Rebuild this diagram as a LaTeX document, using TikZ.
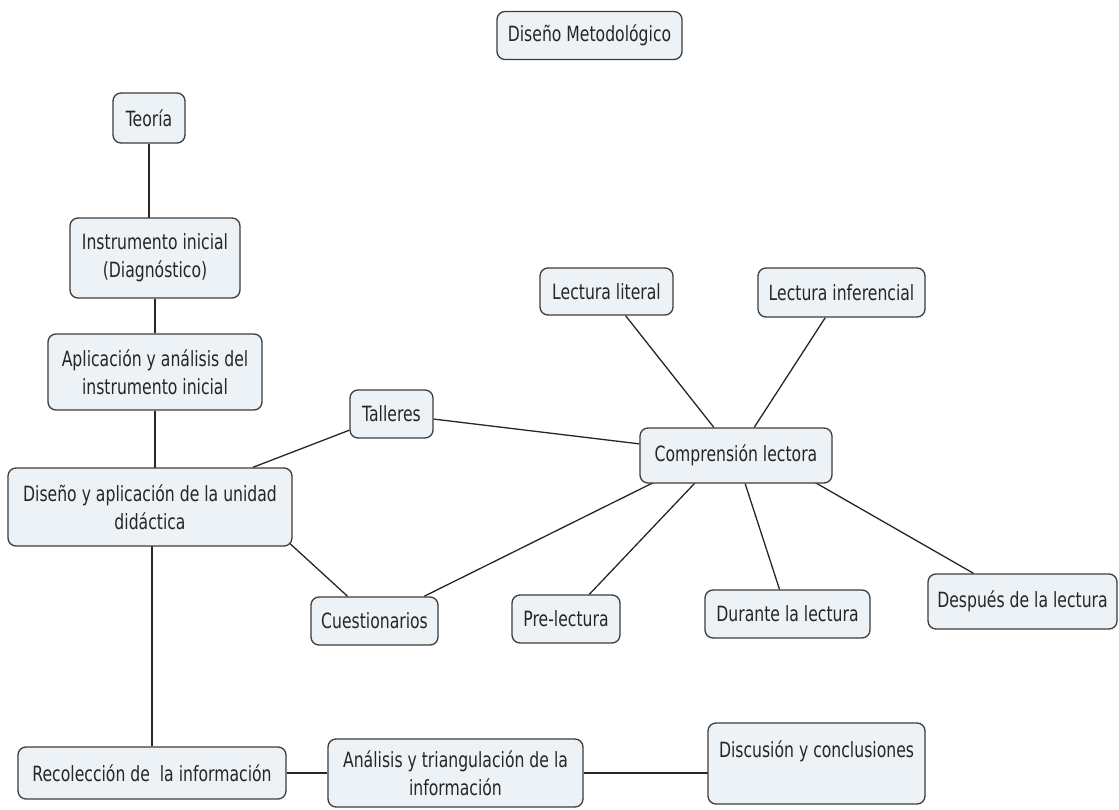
\documentclass[tikz,border=0pt]{standalone}
\usepackage{fontspec}
\setmainfont{DejaVu Sans}[FakeStretch=0.745]
\usepackage{tikz}
\usetikzlibrary{backgrounds}
\definecolor{conceptfill}{HTML}{ECF2F6}
\definecolor{conceptline}{HTML}{3C3C3C}
\tikzstyle{concept} = [rectangle, rounded corners=8pt, draw=conceptline, line width=1.3pt, fill=conceptfill, align=center, inner xsep=6pt, inner ysep=3pt, minimum height=48pt, text=black!85, font=\fontsize{21}{28}\selectfont]
\tikzstyle{link} = [line width=1.3pt, draw=black!85]

\begin{document}
\begin{tikzpicture}[x=1pt, y=-1pt]
  \useasboundingbox (0,0) rectangle (1119,810);

  \node[concept, minimum width=185pt] (metodo) at (589.5,35.5) {Diseño Metodológico};
  \node[concept, minimum width=72pt, minimum height=50pt] (teoria) at (149,118) {Teoría};
  \node[concept, minimum width=170pt, minimum height=80pt] (instr) at (155,258) {Instrumento inicial\\(Diagnóstico)};
  \node[concept, minimum width=214pt, minimum height=76pt] (aplic) at (155,372) {Aplicación y análisis del\\instrumento inicial};
  \node[concept, minimum width=284pt, minimum height=78pt] (unidad) at (150,507) {Diseño y aplicación de la unidad\\didáctica};
  \node[concept, minimum width=83pt] (talleres) at (391.5,414) {Talleres};
  \node[concept, minimum width=127pt] (cuest) at (374.5,621) {Cuestionarios};
  \node[concept, minimum width=192pt, minimum height=55pt] (compr) at (736,455.5) {Comprensión lectora};
  \node[concept, minimum width=133pt, minimum height=47pt] (literal) at (606.5,291.5) {Lectura literal};
  \node[concept, minimum width=167pt, minimum height=49pt] (inferen) at (841.5,292.5) {Lectura inferencial};
  \node[concept, minimum width=108pt] (prelec) at (566,619) {Pre-lectura};
  \node[concept, minimum width=165pt] (durante) at (787.5,614) {Durante la lectura};
  \node[concept, minimum width=189pt, minimum height=55pt] (despues) at (1022.5,601.5) {Después de la lectura};
  \node[concept, minimum width=268pt, minimum height=52pt] (recol) at (152,773) {Recolección de\ \ la información};
  \node[concept, minimum width=255pt, minimum height=68pt] (analisis) at (455.5,773) {Análisis y triangulación de la\\información};
  \node[concept, minimum width=217pt, minimum height=81pt] (discus) at (816.5,763.5) {Discusión y conclusiones\\\mbox{}};

  % links sit behind the boxes
  \begin{pgfonlayer}{background}
    \draw[link] (teoria) -- (teoria |- instr);
    \draw[link] (instr) -- (aplic);
    \draw[link] (aplic) -- (aplic |- unidad);
    \draw[link] (recol) -- (recol |- unidad);
    \draw[link] (unidad) -- (talleres);
    \draw[link] ([xshift=100pt]unidad.center) -- (cuest);
    \draw[link] (talleres) -- (compr);
    \draw[link] (cuest) -- ([xshift=-28pt]compr.center);
    \draw[link] (literal) -- (compr);
    \draw[link] (inferen) -- (compr);
    \draw[link] ([xshift=-15pt]compr.center) -- (prelec);
    \draw[link] (compr) -- (durante);
    \draw[link] ([xshift=32pt]compr.center) -- (despues);
    \draw[link] (recol) -- (analisis);
    \draw[link] (analisis) -- (analisis -| discus);
  \end{pgfonlayer}
\end{tikzpicture}
\end{document}
